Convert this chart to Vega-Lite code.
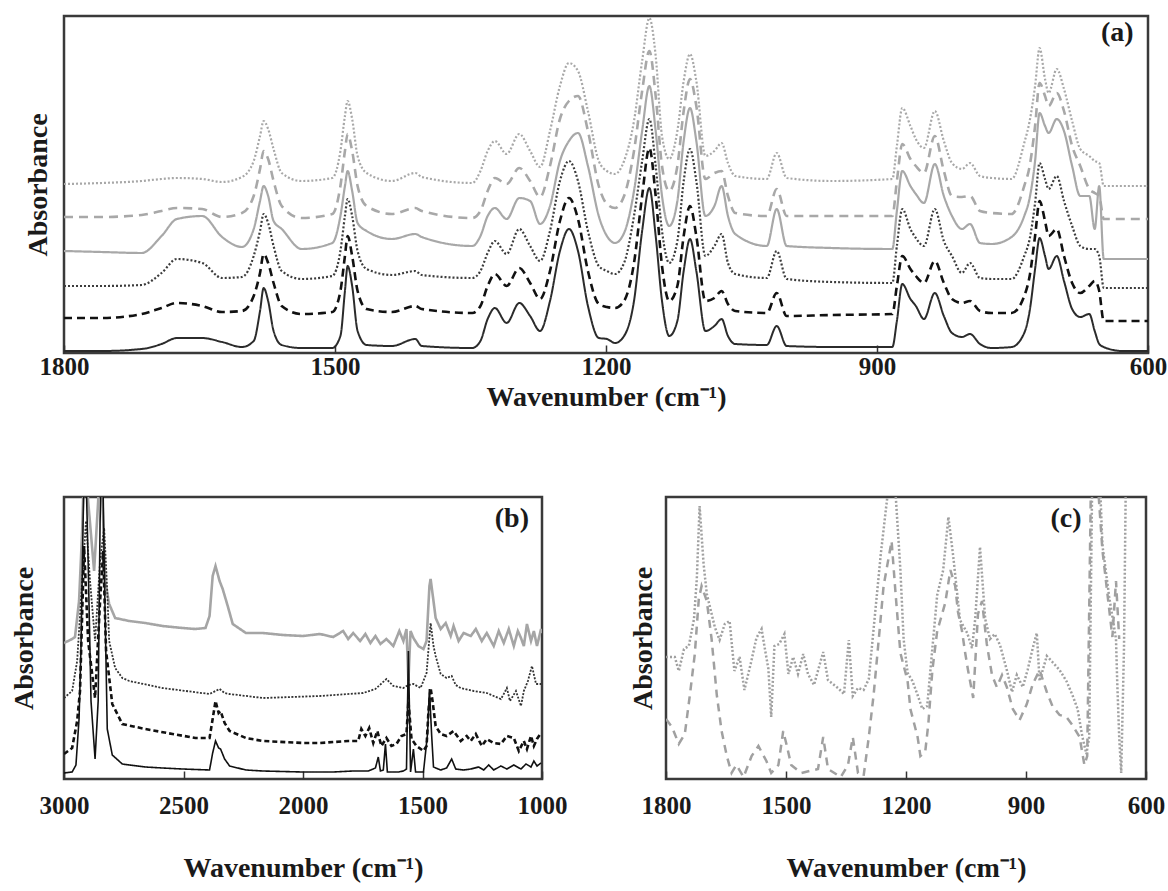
{
"$schema": "https://vega.github.io/schema/vega-lite/v6.json",
"padding": {"left": 8, "top": 14, "right": 0, "bottom": 0},
"background": "white",
"config": {
  "font": "Liberation Serif",
  "view": {"stroke": "#3a3a3a", "strokeWidth": 2.5},
  "axis": {"grid": false, "domain": false, "labelFont": "Liberation Serif", "labelFontWeight": "bold", "labelFontSize": 25, "labelColor": "#1a1a1a", "titleFont": "Liberation Serif", "titleFontWeight": "bold", "titleFontSize": 28, "titleColor": "#1a1a1a", "tickColor": "#333333", "tickWidth": 1.5, "labelFlush": false, "format": "d"}
},
"datasets": {
"a": [
{"s":"A1","w":1800,"v":2},{"s":"A1","w":1758,"v":2},{"s":"A1","w":1714,"v":4},{"s":"A1","w":1692,"v":9},{"s":"A1","w":1675,"v":15},{"s":"A1","w":1647,"v":15},{"s":"A1","w":1625,"v":11},{"s":"A1","w":1603,"v":6},{"s":"A1","w":1590,"v":12},{"s":"A1","w":1583,"v":42},
{"s":"A1","w":1579,"v":65},{"s":"A1","w":1574,"v":52},{"s":"A1","w":1568,"v":22},{"s":"A1","w":1559,"v":8},{"s":"A1","w":1537,"v":5},{"s":"A1","w":1503,"v":5},{"s":"A1","w":1494,"v":17},{"s":"A1","w":1489,"v":62},{"s":"A1","w":1486,"v":87},{"s":"A1","w":1481,"v":67},
{"s":"A1","w":1475,"v":22},{"s":"A1","w":1465,"v":8},{"s":"A1","w":1437,"v":7},{"s":"A1","w":1411,"v":14},{"s":"A1","w":1404,"v":7},{"s":"A1","w":1348,"v":5},{"s":"A1","w":1339,"v":12},{"s":"A1","w":1331,"v":34},{"s":"A1","w":1323,"v":45},{"s":"A1","w":1310,"v":30},
{"s":"A1","w":1296,"v":50},{"s":"A1","w":1284,"v":37},{"s":"A1","w":1273,"v":22},{"s":"A1","w":1262,"v":52},{"s":"A1","w":1251,"v":102},{"s":"A1","w":1241,"v":124},{"s":"A1","w":1231,"v":102},{"s":"A1","w":1220,"v":47},{"s":"A1","w":1208,"v":15},{"s":"A1","w":1199,"v":14},
{"s":"A1","w":1190,"v":10},{"s":"A1","w":1180,"v":17},{"s":"A1","w":1169,"v":52},{"s":"A1","w":1160,"v":122},{"s":"A1","w":1152,"v":165},{"s":"A1","w":1145,"v":117},{"s":"A1","w":1138,"v":52},{"s":"A1","w":1130,"v":17},{"s":"A1","w":1121,"v":32},{"s":"A1","w":1114,"v":82},
{"s":"A1","w":1107,"v":114},{"s":"A1","w":1100,"v":82},{"s":"A1","w":1090,"v":22},{"s":"A1","w":1080,"v":27},{"s":"A1","w":1072,"v":34},{"s":"A1","w":1065,"v":17},{"s":"A1","w":1057,"v":9},{"s":"A1","w":1022,"v":8},{"s":"A1","w":1011,"v":27},{"s":"A1","w":1000,"v":7},
{"s":"A1","w":950,"v":6},{"s":"A1","w":883,"v":6},{"s":"A1","w":878,"v":32},{"s":"A1","w":872,"v":69},{"s":"A1","w":863,"v":54},{"s":"A1","w":857,"v":47},{"s":"A1","w":848,"v":34},{"s":"A1","w":836,"v":60},{"s":"A1","w":826,"v":37},{"s":"A1","w":817,"v":20},
{"s":"A1","w":806,"v":16},{"s":"A1","w":797,"v":19},{"s":"A1","w":786,"v":9},{"s":"A1","w":773,"v":5},{"s":"A1","w":751,"v":6},{"s":"A1","w":737,"v":20},{"s":"A1","w":731,"v":42},{"s":"A1","w":725,"v":84},{"s":"A1","w":720,"v":115},{"s":"A1","w":714,"v":97},
{"s":"A1","w":710,"v":84},{"s":"A1","w":701,"v":97},{"s":"A1","w":693,"v":72},{"s":"A1","w":684,"v":44},{"s":"A1","w":675,"v":36},{"s":"A1","w":665,"v":39},{"s":"A1","w":659,"v":22},{"s":"A1","w":654,"v":9},{"s":"A1","w":649,"v":6},{"s":"A1","w":643,"v":4},
{"s":"A1","w":629,"v":2},{"s":"A1","w":600,"v":2},
{"s":"A2","w":1800,"v":35},{"s":"A2","w":1758,"v":35},{"s":"A2","w":1714,"v":39},{"s":"A2","w":1692,"v":45},{"s":"A2","w":1675,"v":50},{"s":"A2","w":1647,"v":47},{"s":"A2","w":1625,"v":41},{"s":"A2","w":1603,"v":42},{"s":"A2","w":1590,"v":57},{"s":"A2","w":1583,"v":80},
{"s":"A2","w":1579,"v":99},{"s":"A2","w":1574,"v":90},{"s":"A2","w":1568,"v":70},{"s":"A2","w":1559,"v":47},{"s":"A2","w":1537,"v":39},{"s":"A2","w":1503,"v":41},{"s":"A2","w":1494,"v":62},{"s":"A2","w":1489,"v":97},{"s":"A2","w":1486,"v":117},{"s":"A2","w":1481,"v":97},
{"s":"A2","w":1475,"v":62},{"s":"A2","w":1465,"v":44},{"s":"A2","w":1437,"v":41},{"s":"A2","w":1411,"v":47},{"s":"A2","w":1404,"v":44},{"s":"A2","w":1348,"v":40},{"s":"A2","w":1339,"v":47},{"s":"A2","w":1331,"v":67},{"s":"A2","w":1323,"v":79},{"s":"A2","w":1310,"v":67},
{"s":"A2","w":1296,"v":85},{"s":"A2","w":1284,"v":70},{"s":"A2","w":1273,"v":54},{"s":"A2","w":1262,"v":82},{"s":"A2","w":1251,"v":132},{"s":"A2","w":1241,"v":155},{"s":"A2","w":1231,"v":134},{"s":"A2","w":1220,"v":82},{"s":"A2","w":1208,"v":49},{"s":"A2","w":1199,"v":46},
{"s":"A2","w":1190,"v":45},{"s":"A2","w":1180,"v":52},{"s":"A2","w":1169,"v":90},{"s":"A2","w":1160,"v":157},{"s":"A2","w":1152,"v":205},{"s":"A2","w":1145,"v":157},{"s":"A2","w":1138,"v":87},{"s":"A2","w":1130,"v":52},{"s":"A2","w":1121,"v":67},{"s":"A2","w":1114,"v":117},
{"s":"A2","w":1107,"v":147},{"s":"A2","w":1100,"v":117},{"s":"A2","w":1090,"v":52},{"s":"A2","w":1080,"v":55},{"s":"A2","w":1072,"v":62},{"s":"A2","w":1065,"v":49},{"s":"A2","w":1057,"v":42},{"s":"A2","w":1022,"v":40},{"s":"A2","w":1011,"v":60},{"s":"A2","w":1000,"v":37},
{"s":"A2","w":950,"v":38},{"s":"A2","w":883,"v":39},{"s":"A2","w":878,"v":67},{"s":"A2","w":872,"v":97},{"s":"A2","w":863,"v":84},{"s":"A2","w":857,"v":77},{"s":"A2","w":848,"v":70},{"s":"A2","w":836,"v":92},{"s":"A2","w":826,"v":70},{"s":"A2","w":817,"v":54},
{"s":"A2","w":806,"v":50},{"s":"A2","w":797,"v":52},{"s":"A2","w":786,"v":42},{"s":"A2","w":773,"v":40},{"s":"A2","w":751,"v":40},{"s":"A2","w":737,"v":57},{"s":"A2","w":731,"v":77},{"s":"A2","w":725,"v":117},{"s":"A2","w":720,"v":152},{"s":"A2","w":714,"v":132},
{"s":"A2","w":710,"v":117},{"s":"A2","w":701,"v":124},{"s":"A2","w":693,"v":97},{"s":"A2","w":684,"v":70},{"s":"A2","w":675,"v":60},{"s":"A2","w":665,"v":67},{"s":"A2","w":659,"v":72},{"s":"A2","w":654,"v":62},{"s":"A2","w":649,"v":32},{"s":"A2","w":643,"v":32},
{"s":"A2","w":629,"v":32},{"s":"A2","w":600,"v":32},
{"s":"A3","w":1800,"v":67},{"s":"A3","w":1758,"v":67},{"s":"A3","w":1714,"v":68},{"s":"A3","w":1692,"v":80},{"s":"A3","w":1675,"v":94},{"s":"A3","w":1647,"v":90},{"s":"A3","w":1625,"v":75},{"s":"A3","w":1603,"v":76},{"s":"A3","w":1590,"v":97},{"s":"A3","w":1583,"v":122},
{"s":"A3","w":1579,"v":139},{"s":"A3","w":1574,"v":130},{"s":"A3","w":1568,"v":107},{"s":"A3","w":1559,"v":82},{"s":"A3","w":1537,"v":74},{"s":"A3","w":1503,"v":77},{"s":"A3","w":1494,"v":102},{"s":"A3","w":1489,"v":137},{"s":"A3","w":1486,"v":154},{"s":"A3","w":1481,"v":137},
{"s":"A3","w":1475,"v":102},{"s":"A3","w":1465,"v":84},{"s":"A3","w":1437,"v":78},{"s":"A3","w":1411,"v":82},{"s":"A3","w":1404,"v":78},{"s":"A3","w":1348,"v":75},{"s":"A3","w":1339,"v":82},{"s":"A3","w":1331,"v":100},{"s":"A3","w":1323,"v":112},{"s":"A3","w":1310,"v":99},
{"s":"A3","w":1296,"v":124},{"s":"A3","w":1284,"v":107},{"s":"A3","w":1273,"v":92},{"s":"A3","w":1262,"v":122},{"s":"A3","w":1251,"v":172},{"s":"A3","w":1241,"v":192},{"s":"A3","w":1231,"v":172},{"s":"A3","w":1220,"v":122},{"s":"A3","w":1208,"v":87},{"s":"A3","w":1199,"v":82},
{"s":"A3","w":1190,"v":79},{"s":"A3","w":1180,"v":90},{"s":"A3","w":1169,"v":137},{"s":"A3","w":1160,"v":192},{"s":"A3","w":1152,"v":234},{"s":"A3","w":1145,"v":187},{"s":"A3","w":1138,"v":122},{"s":"A3","w":1130,"v":90},{"s":"A3","w":1121,"v":112},{"s":"A3","w":1114,"v":172},
{"s":"A3","w":1107,"v":204},{"s":"A3","w":1100,"v":172},{"s":"A3","w":1090,"v":97},{"s":"A3","w":1080,"v":107},{"s":"A3","w":1072,"v":119},{"s":"A3","w":1065,"v":90},{"s":"A3","w":1057,"v":79},{"s":"A3","w":1022,"v":75},{"s":"A3","w":1011,"v":102},{"s":"A3","w":1000,"v":74},
{"s":"A3","w":950,"v":71},{"s":"A3","w":883,"v":70},{"s":"A3","w":878,"v":107},{"s":"A3","w":872,"v":144},{"s":"A3","w":863,"v":124},{"s":"A3","w":857,"v":115},{"s":"A3","w":848,"v":107},{"s":"A3","w":836,"v":144},{"s":"A3","w":826,"v":112},{"s":"A3","w":817,"v":97},
{"s":"A3","w":806,"v":80},{"s":"A3","w":797,"v":90},{"s":"A3","w":786,"v":75},{"s":"A3","w":773,"v":74},{"s":"A3","w":751,"v":74},{"s":"A3","w":737,"v":97},{"s":"A3","w":731,"v":114},{"s":"A3","w":725,"v":150},{"s":"A3","w":720,"v":190},{"s":"A3","w":714,"v":174},
{"s":"A3","w":710,"v":164},{"s":"A3","w":701,"v":177},{"s":"A3","w":693,"v":152},{"s":"A3","w":684,"v":127},{"s":"A3","w":675,"v":107},{"s":"A3","w":665,"v":104},{"s":"A3","w":659,"v":104},{"s":"A3","w":654,"v":97},{"s":"A3","w":649,"v":65},{"s":"A3","w":643,"v":65},
{"s":"A3","w":629,"v":65},{"s":"A3","w":600,"v":65},
{"s":"A4","w":1800,"v":102},{"s":"A4","w":1758,"v":101},{"s":"A4","w":1714,"v":100},{"s":"A4","w":1692,"v":117},{"s":"A4","w":1675,"v":134},{"s":"A4","w":1647,"v":137},{"s":"A4","w":1625,"v":116},{"s":"A4","w":1603,"v":106},{"s":"A4","w":1590,"v":124},{"s":"A4","w":1583,"v":152},
{"s":"A4","w":1579,"v":167},{"s":"A4","w":1574,"v":157},{"s":"A4","w":1568,"v":132},{"s":"A4","w":1559,"v":124},{"s":"A4","w":1537,"v":104},{"s":"A4","w":1503,"v":110},{"s":"A4","w":1494,"v":137},{"s":"A4","w":1489,"v":167},{"s":"A4","w":1486,"v":182},{"s":"A4","w":1481,"v":162},
{"s":"A4","w":1475,"v":130},{"s":"A4","w":1465,"v":122},{"s":"A4","w":1437,"v":114},{"s":"A4","w":1411,"v":119},{"s":"A4","w":1404,"v":116},{"s":"A4","w":1348,"v":107},{"s":"A4","w":1339,"v":117},{"s":"A4","w":1331,"v":137},{"s":"A4","w":1323,"v":145},{"s":"A4","w":1310,"v":134},
{"s":"A4","w":1296,"v":155},{"s":"A4","w":1284,"v":152},{"s":"A4","w":1273,"v":129},{"s":"A4","w":1262,"v":147},{"s":"A4","w":1251,"v":192},{"s":"A4","w":1241,"v":212},{"s":"A4","w":1231,"v":220},{"s":"A4","w":1220,"v":187},{"s":"A4","w":1208,"v":137},{"s":"A4","w":1199,"v":117},
{"s":"A4","w":1190,"v":110},{"s":"A4","w":1180,"v":120},{"s":"A4","w":1169,"v":162},{"s":"A4","w":1160,"v":222},{"s":"A4","w":1152,"v":267},{"s":"A4","w":1145,"v":222},{"s":"A4","w":1138,"v":157},{"s":"A4","w":1130,"v":127},{"s":"A4","w":1121,"v":152},{"s":"A4","w":1114,"v":212},
{"s":"A4","w":1107,"v":245},{"s":"A4","w":1100,"v":212},{"s":"A4","w":1090,"v":137},{"s":"A4","w":1080,"v":147},{"s":"A4","w":1072,"v":167},{"s":"A4","w":1065,"v":137},{"s":"A4","w":1057,"v":119},{"s":"A4","w":1022,"v":107},{"s":"A4","w":1011,"v":144},{"s":"A4","w":1000,"v":107},
{"s":"A4","w":950,"v":105},{"s":"A4","w":883,"v":104},{"s":"A4","w":878,"v":142},{"s":"A4","w":872,"v":182},{"s":"A4","w":863,"v":167},{"s":"A4","w":857,"v":159},{"s":"A4","w":848,"v":150},{"s":"A4","w":836,"v":189},{"s":"A4","w":826,"v":157},{"s":"A4","w":817,"v":137},
{"s":"A4","w":806,"v":124},{"s":"A4","w":797,"v":129},{"s":"A4","w":786,"v":110},{"s":"A4","w":773,"v":109},{"s":"A4","w":751,"v":116},{"s":"A4","w":737,"v":137},{"s":"A4","w":731,"v":155},{"s":"A4","w":725,"v":192},{"s":"A4","w":720,"v":240},{"s":"A4","w":714,"v":227},
{"s":"A4","w":710,"v":220},{"s":"A4","w":701,"v":234},{"s":"A4","w":693,"v":222},{"s":"A4","w":684,"v":187},{"s":"A4","w":675,"v":157},{"s":"A4","w":665,"v":157},{"s":"A4","w":659,"v":124},{"s":"A4","w":654,"v":167},{"s":"A4","w":649,"v":94},{"s":"A4","w":643,"v":94},
{"s":"A4","w":629,"v":94},{"s":"A4","w":600,"v":94},
{"s":"A5","w":1800,"v":136},{"s":"A5","w":1758,"v":136},{"s":"A5","w":1714,"v":138},{"s":"A5","w":1692,"v":142},{"s":"A5","w":1675,"v":145},{"s":"A5","w":1647,"v":144},{"s":"A5","w":1625,"v":136},{"s":"A5","w":1603,"v":140},{"s":"A5","w":1590,"v":157},{"s":"A5","w":1583,"v":184},
{"s":"A5","w":1579,"v":202},{"s":"A5","w":1574,"v":194},{"s":"A5","w":1568,"v":172},{"s":"A5","w":1559,"v":147},{"s":"A5","w":1537,"v":135},{"s":"A5","w":1503,"v":139},{"s":"A5","w":1494,"v":167},{"s":"A5","w":1489,"v":202},{"s":"A5","w":1486,"v":219},{"s":"A5","w":1481,"v":202},
{"s":"A5","w":1475,"v":167},{"s":"A5","w":1465,"v":147},{"s":"A5","w":1437,"v":139},{"s":"A5","w":1411,"v":145},{"s":"A5","w":1404,"v":142},{"s":"A5","w":1348,"v":135},{"s":"A5","w":1339,"v":142},{"s":"A5","w":1331,"v":162},{"s":"A5","w":1323,"v":175},{"s":"A5","w":1310,"v":169},
{"s":"A5","w":1296,"v":185},{"s":"A5","w":1284,"v":172},{"s":"A5","w":1273,"v":156},{"s":"A5","w":1262,"v":187},{"s":"A5","w":1251,"v":234},{"s":"A5","w":1241,"v":252},{"s":"A5","w":1231,"v":257},{"s":"A5","w":1220,"v":222},{"s":"A5","w":1208,"v":167},{"s":"A5","w":1199,"v":149},
{"s":"A5","w":1190,"v":145},{"s":"A5","w":1180,"v":157},{"s":"A5","w":1169,"v":202},{"s":"A5","w":1160,"v":262},{"s":"A5","w":1152,"v":302},{"s":"A5","w":1145,"v":257},{"s":"A5","w":1138,"v":187},{"s":"A5","w":1130,"v":162},{"s":"A5","w":1121,"v":187},{"s":"A5","w":1114,"v":242},
{"s":"A5","w":1107,"v":274},{"s":"A5","w":1100,"v":247},{"s":"A5","w":1090,"v":174},{"s":"A5","w":1080,"v":180},{"s":"A5","w":1072,"v":182},{"s":"A5","w":1065,"v":157},{"s":"A5","w":1057,"v":140},{"s":"A5","w":1022,"v":137},{"s":"A5","w":1011,"v":164},{"s":"A5","w":1000,"v":137},
{"s":"A5","w":950,"v":137},{"s":"A5","w":883,"v":137},{"s":"A5","w":878,"v":172},{"s":"A5","w":872,"v":209},{"s":"A5","w":863,"v":194},{"s":"A5","w":857,"v":187},{"s":"A5","w":848,"v":180},{"s":"A5","w":836,"v":217},{"s":"A5","w":826,"v":182},{"s":"A5","w":817,"v":157},
{"s":"A5","w":806,"v":156},{"s":"A5","w":797,"v":157},{"s":"A5","w":786,"v":142},{"s":"A5","w":773,"v":140},{"s":"A5","w":751,"v":139},{"s":"A5","w":737,"v":167},{"s":"A5","w":731,"v":187},{"s":"A5","w":725,"v":227},{"s":"A5","w":720,"v":270},{"s":"A5","w":714,"v":257},
{"s":"A5","w":710,"v":247},{"s":"A5","w":701,"v":260},{"s":"A5","w":693,"v":242},{"s":"A5","w":684,"v":207},{"s":"A5","w":675,"v":187},{"s":"A5","w":665,"v":164},{"s":"A5","w":659,"v":160},{"s":"A5","w":654,"v":157},{"s":"A5","w":649,"v":134},{"s":"A5","w":643,"v":134},
{"s":"A5","w":629,"v":134},{"s":"A5","w":600,"v":134},
{"s":"A6","w":1800,"v":169},{"s":"A6","w":1758,"v":170},{"s":"A6","w":1714,"v":172},{"s":"A6","w":1692,"v":174},{"s":"A6","w":1675,"v":175},{"s":"A6","w":1647,"v":174},{"s":"A6","w":1625,"v":171},{"s":"A6","w":1603,"v":176},{"s":"A6","w":1590,"v":192},{"s":"A6","w":1583,"v":217},
{"s":"A6","w":1579,"v":232},{"s":"A6","w":1574,"v":224},{"s":"A6","w":1568,"v":204},{"s":"A6","w":1559,"v":180},{"s":"A6","w":1537,"v":172},{"s":"A6","w":1503,"v":175},{"s":"A6","w":1494,"v":202},{"s":"A6","w":1489,"v":237},{"s":"A6","w":1486,"v":252},{"s":"A6","w":1481,"v":234},
{"s":"A6","w":1475,"v":197},{"s":"A6","w":1465,"v":180},{"s":"A6","w":1437,"v":172},{"s":"A6","w":1411,"v":180},{"s":"A6","w":1404,"v":176},{"s":"A6","w":1348,"v":170},{"s":"A6","w":1339,"v":182},{"s":"A6","w":1331,"v":202},{"s":"A6","w":1323,"v":212},{"s":"A6","w":1310,"v":199},
{"s":"A6","w":1296,"v":219},{"s":"A6","w":1284,"v":202},{"s":"A6","w":1273,"v":186},{"s":"A6","w":1262,"v":222},{"s":"A6","w":1251,"v":267},{"s":"A6","w":1241,"v":290},{"s":"A6","w":1231,"v":282},{"s":"A6","w":1220,"v":242},{"s":"A6","w":1208,"v":192},{"s":"A6","w":1199,"v":182},
{"s":"A6","w":1190,"v":179},{"s":"A6","w":1180,"v":192},{"s":"A6","w":1169,"v":232},{"s":"A6","w":1160,"v":292},{"s":"A6","w":1152,"v":335},{"s":"A6","w":1145,"v":297},{"s":"A6","w":1138,"v":217},{"s":"A6","w":1130,"v":194},{"s":"A6","w":1121,"v":222},{"s":"A6","w":1114,"v":272},
{"s":"A6","w":1107,"v":299},{"s":"A6","w":1100,"v":272},{"s":"A6","w":1090,"v":197},{"s":"A6","w":1080,"v":202},{"s":"A6","w":1072,"v":210},{"s":"A6","w":1065,"v":190},{"s":"A6","w":1057,"v":177},{"s":"A6","w":1022,"v":174},{"s":"A6","w":1011,"v":200},{"s":"A6","w":1000,"v":175},
{"s":"A6","w":950,"v":172},{"s":"A6","w":883,"v":174},{"s":"A6","w":878,"v":207},{"s":"A6","w":872,"v":245},{"s":"A6","w":863,"v":227},{"s":"A6","w":857,"v":214},{"s":"A6","w":848,"v":205},{"s":"A6","w":836,"v":242},{"s":"A6","w":826,"v":212},{"s":"A6","w":817,"v":190},
{"s":"A6","w":806,"v":184},{"s":"A6","w":797,"v":190},{"s":"A6","w":786,"v":177},{"s":"A6","w":773,"v":175},{"s":"A6","w":751,"v":174},{"s":"A6","w":737,"v":210},{"s":"A6","w":731,"v":232},{"s":"A6","w":725,"v":267},{"s":"A6","w":720,"v":305},{"s":"A6","w":714,"v":274},
{"s":"A6","w":710,"v":260},{"s":"A6","w":701,"v":284},{"s":"A6","w":693,"v":264},{"s":"A6","w":684,"v":232},{"s":"A6","w":675,"v":204},{"s":"A6","w":665,"v":197},{"s":"A6","w":659,"v":192},{"s":"A6","w":654,"v":190},{"s":"A6","w":649,"v":167},{"s":"A6","w":643,"v":167},
{"s":"A6","w":629,"v":167},{"s":"A6","w":600,"v":167}
],
"b": [
{"s":"B4","w":3000,"v":136},{"s":"B4","w":2966,"v":140},{"s":"B4","w":2954,"v":142},{"s":"B4","w":2937,"v":178},{"s":"B4","w":2924,"v":248},{"s":"B4","w":2912,"v":348},{"s":"B4","w":2899,"v":278},{"s":"B4","w":2874,"v":208},{"s":"B4","w":2857,"v":278},{"s":"B4","w":2849,"v":348},
{"s":"B4","w":2836,"v":258},{"s":"B4","w":2828,"v":198},{"s":"B4","w":2811,"v":175},{"s":"B4","w":2786,"v":161},{"s":"B4","w":2727,"v":158},{"s":"B4","w":2660,"v":156},{"s":"B4","w":2588,"v":153},{"s":"B4","w":2504,"v":151},{"s":"B4","w":2450,"v":150},{"s":"B4","w":2408,"v":151},
{"s":"B4","w":2391,"v":163},{"s":"B4","w":2378,"v":203},{"s":"B4","w":2366,"v":213},{"s":"B4","w":2349,"v":198},{"s":"B4","w":2336,"v":190},{"s":"B4","w":2315,"v":173},{"s":"B4","w":2294,"v":155},{"s":"B4","w":2239,"v":146},{"s":"B4","w":2168,"v":146},{"s":"B4","w":2084,"v":144},
{"s":"B4","w":2000,"v":143},{"s":"B4","w":1929,"v":145},{"s":"B4","w":1874,"v":142},{"s":"B4","w":1832,"v":148},{"s":"B4","w":1811,"v":140},{"s":"B4","w":1790,"v":146},{"s":"B4","w":1761,"v":138},{"s":"B4","w":1739,"v":145},{"s":"B4","w":1718,"v":136},{"s":"B4","w":1697,"v":143},
{"s":"B4","w":1676,"v":135},{"s":"B4","w":1651,"v":140},{"s":"B4","w":1622,"v":133},{"s":"B4","w":1597,"v":148},{"s":"B4","w":1580,"v":138},{"s":"B4","w":1567,"v":150},{"s":"B4","w":1559,"v":98},{"s":"B4","w":1550,"v":148},{"s":"B4","w":1538,"v":141},{"s":"B4","w":1517,"v":133},
{"s":"B4","w":1496,"v":130},{"s":"B4","w":1483,"v":138},{"s":"B4","w":1471,"v":193},{"s":"B4","w":1466,"v":200},{"s":"B4","w":1454,"v":178},{"s":"B4","w":1445,"v":161},{"s":"B4","w":1424,"v":150},{"s":"B4","w":1403,"v":156},{"s":"B4","w":1382,"v":143},{"s":"B4","w":1370,"v":153},
{"s":"B4","w":1349,"v":138},{"s":"B4","w":1328,"v":146},{"s":"B4","w":1298,"v":143},{"s":"B4","w":1277,"v":150},{"s":"B4","w":1252,"v":138},{"s":"B4","w":1231,"v":146},{"s":"B4","w":1202,"v":133},{"s":"B4","w":1181,"v":148},{"s":"B4","w":1160,"v":136},{"s":"B4","w":1139,"v":150},
{"s":"B4","w":1118,"v":133},{"s":"B4","w":1101,"v":148},{"s":"B4","w":1088,"v":141},{"s":"B4","w":1076,"v":133},{"s":"B4","w":1063,"v":155},{"s":"B4","w":1046,"v":138},{"s":"B4","w":1034,"v":148},{"s":"B4","w":1021,"v":133},{"s":"B4","w":1004,"v":150},{"s":"B4","w":1000,"v":146},
{"s":"B3","w":3000,"v":81},{"s":"B3","w":2966,"v":88},{"s":"B3","w":2945,"v":118},{"s":"B3","w":2924,"v":198},{"s":"B3","w":2908,"v":258},{"s":"B3","w":2891,"v":198},{"s":"B3","w":2870,"v":138},{"s":"B3","w":2849,"v":218},{"s":"B3","w":2832,"v":251},{"s":"B3","w":2819,"v":188},
{"s":"B3","w":2811,"v":138},{"s":"B3","w":2786,"v":111},{"s":"B3","w":2756,"v":101},{"s":"B3","w":2727,"v":98},{"s":"B3","w":2588,"v":91},{"s":"B3","w":2391,"v":85},{"s":"B3","w":2366,"v":88},{"s":"B3","w":2349,"v":90},{"s":"B3","w":2328,"v":86},{"s":"B3","w":2307,"v":85},
{"s":"B3","w":2168,"v":81},{"s":"B3","w":1929,"v":83},{"s":"B3","w":1748,"v":86},{"s":"B3","w":1697,"v":90},{"s":"B3","w":1651,"v":100},{"s":"B3","w":1622,"v":93},{"s":"B3","w":1580,"v":91},{"s":"B3","w":1559,"v":94},{"s":"B3","w":1538,"v":95},{"s":"B3","w":1508,"v":91},
{"s":"B3","w":1483,"v":106},{"s":"B3","w":1466,"v":156},{"s":"B3","w":1454,"v":133},{"s":"B3","w":1445,"v":123},{"s":"B3","w":1424,"v":105},{"s":"B3","w":1399,"v":101},{"s":"B3","w":1378,"v":103},{"s":"B3","w":1361,"v":94},{"s":"B3","w":1340,"v":91},{"s":"B3","w":1286,"v":88},
{"s":"B3","w":1231,"v":86},{"s":"B3","w":1202,"v":83},{"s":"B3","w":1172,"v":80},{"s":"B3","w":1160,"v":85},{"s":"B3","w":1147,"v":91},{"s":"B3","w":1134,"v":78},{"s":"B3","w":1109,"v":88},{"s":"B3","w":1088,"v":73},{"s":"B3","w":1076,"v":88},{"s":"B3","w":1059,"v":98},
{"s":"B3","w":1042,"v":113},{"s":"B3","w":1025,"v":95},{"s":"B3","w":1004,"v":95},
{"s":"B2","w":3000,"v":25},{"s":"B2","w":2966,"v":31},{"s":"B2","w":2945,"v":58},{"s":"B2","w":2933,"v":88},{"s":"B2","w":2916,"v":233},{"s":"B2","w":2899,"v":138},{"s":"B2","w":2870,"v":81},{"s":"B2","w":2849,"v":178},{"s":"B2","w":2836,"v":228},{"s":"B2","w":2824,"v":128},
{"s":"B2","w":2798,"v":75},{"s":"B2","w":2756,"v":55},{"s":"B2","w":2660,"v":50},{"s":"B2","w":2546,"v":45},{"s":"B2","w":2450,"v":41},{"s":"B2","w":2391,"v":41},{"s":"B2","w":2378,"v":60},{"s":"B2","w":2366,"v":78},{"s":"B2","w":2353,"v":66},{"s":"B2","w":2345,"v":68},
{"s":"B2","w":2328,"v":56},{"s":"B2","w":2307,"v":48},{"s":"B2","w":2239,"v":41},{"s":"B2","w":2168,"v":38},{"s":"B2","w":2000,"v":36},{"s":"B2","w":1929,"v":36},{"s":"B2","w":1811,"v":38},{"s":"B2","w":1769,"v":38},{"s":"B2","w":1756,"v":50},{"s":"B2","w":1739,"v":43},
{"s":"B2","w":1723,"v":51},{"s":"B2","w":1706,"v":36},{"s":"B2","w":1689,"v":48},{"s":"B2","w":1672,"v":33},{"s":"B2","w":1651,"v":41},{"s":"B2","w":1630,"v":33},{"s":"B2","w":1609,"v":35},{"s":"B2","w":1588,"v":43},{"s":"B2","w":1567,"v":45},{"s":"B2","w":1559,"v":78},
{"s":"B2","w":1546,"v":40},{"s":"B2","w":1525,"v":33},{"s":"B2","w":1496,"v":28},{"s":"B2","w":1483,"v":33},{"s":"B2","w":1475,"v":68},{"s":"B2","w":1466,"v":91},{"s":"B2","w":1458,"v":78},{"s":"B2","w":1445,"v":53},{"s":"B2","w":1424,"v":45},{"s":"B2","w":1399,"v":43},
{"s":"B2","w":1370,"v":48},{"s":"B2","w":1340,"v":38},{"s":"B2","w":1315,"v":43},{"s":"B2","w":1298,"v":38},{"s":"B2","w":1277,"v":45},{"s":"B2","w":1252,"v":33},{"s":"B2","w":1231,"v":40},{"s":"B2","w":1202,"v":36},{"s":"B2","w":1172,"v":35},{"s":"B2","w":1147,"v":43},
{"s":"B2","w":1118,"v":41},{"s":"B2","w":1097,"v":28},{"s":"B2","w":1076,"v":38},{"s":"B2","w":1063,"v":30},{"s":"B2","w":1046,"v":43},{"s":"B2","w":1034,"v":33},{"s":"B2","w":1021,"v":40},{"s":"B2","w":1004,"v":46},
{"s":"B1","w":3000,"v":6},{"s":"B1","w":2966,"v":7},{"s":"B1","w":2950,"v":14},{"s":"B1","w":2937,"v":60},{"s":"B1","w":2929,"v":130},{"s":"B1","w":2920,"v":258},{"s":"B1","w":2912,"v":348},{"s":"B1","w":2899,"v":218},{"s":"B1","w":2887,"v":78},{"s":"B1","w":2870,"v":20},
{"s":"B1","w":2857,"v":78},{"s":"B1","w":2849,"v":258},{"s":"B1","w":2840,"v":348},{"s":"B1","w":2832,"v":218},{"s":"B1","w":2819,"v":50},{"s":"B1","w":2798,"v":24},{"s":"B1","w":2756,"v":15},{"s":"B1","w":2727,"v":14},{"s":"B1","w":2660,"v":12},{"s":"B1","w":2588,"v":11},
{"s":"B1","w":2504,"v":10},{"s":"B1","w":2391,"v":9},{"s":"B1","w":2378,"v":26},{"s":"B1","w":2366,"v":38},{"s":"B1","w":2353,"v":31},{"s":"B1","w":2345,"v":30},{"s":"B1","w":2328,"v":20},{"s":"B1","w":2307,"v":13},{"s":"B1","w":2239,"v":9},{"s":"B1","w":2168,"v":8},
{"s":"B1","w":2000,"v":7},{"s":"B1","w":1874,"v":7},{"s":"B1","w":1790,"v":8},{"s":"B1","w":1727,"v":8},{"s":"B1","w":1697,"v":11},{"s":"B1","w":1685,"v":22},{"s":"B1","w":1676,"v":8},{"s":"B1","w":1664,"v":9},{"s":"B1","w":1655,"v":35},{"s":"B1","w":1647,"v":7},
{"s":"B1","w":1601,"v":7},{"s":"B1","w":1580,"v":8},{"s":"B1","w":1567,"v":10},{"s":"B1","w":1559,"v":128},{"s":"B1","w":1550,"v":7},{"s":"B1","w":1538,"v":30},{"s":"B1","w":1529,"v":7},{"s":"B1","w":1496,"v":7},{"s":"B1","w":1479,"v":45},{"s":"B1","w":1471,"v":90},
{"s":"B1","w":1462,"v":45},{"s":"B1","w":1454,"v":12},{"s":"B1","w":1424,"v":9},{"s":"B1","w":1399,"v":11},{"s":"B1","w":1378,"v":20},{"s":"B1","w":1361,"v":10},{"s":"B1","w":1328,"v":9},{"s":"B1","w":1298,"v":10},{"s":"B1","w":1265,"v":12},{"s":"B1","w":1244,"v":9},
{"s":"B1","w":1223,"v":14},{"s":"B1","w":1202,"v":9},{"s":"B1","w":1172,"v":13},{"s":"B1","w":1147,"v":10},{"s":"B1","w":1118,"v":14},{"s":"B1","w":1088,"v":10},{"s":"B1","w":1067,"v":15},{"s":"B1","w":1046,"v":12},{"s":"B1","w":1034,"v":18},{"s":"B1","w":1021,"v":13},
{"s":"B1","w":1004,"v":16}
],
"c": [
{"s":"C1","w":1800,"v":122},{"s":"C1","w":1778,"v":122},{"s":"C1","w":1768,"v":108},{"s":"C1","w":1755,"v":130},{"s":"C1","w":1743,"v":133},{"s":"C1","w":1730,"v":160},{"s":"C1","w":1723,"v":200},{"s":"C1","w":1716,"v":273},{"s":"C1","w":1706,"v":215},{"s":"C1","w":1698,"v":185},
{"s":"C1","w":1678,"v":152},{"s":"C1","w":1666,"v":139},{"s":"C1","w":1653,"v":155},{"s":"C1","w":1641,"v":158},{"s":"C1","w":1629,"v":108},{"s":"C1","w":1616,"v":122},{"s":"C1","w":1604,"v":89},{"s":"C1","w":1586,"v":119},{"s":"C1","w":1574,"v":141},{"s":"C1","w":1561,"v":150},
{"s":"C1","w":1554,"v":133},{"s":"C1","w":1544,"v":110},{"s":"C1","w":1537,"v":62},{"s":"C1","w":1529,"v":133},{"s":"C1","w":1517,"v":135},{"s":"C1","w":1504,"v":145},{"s":"C1","w":1494,"v":105},{"s":"C1","w":1482,"v":122},{"s":"C1","w":1470,"v":105},{"s":"C1","w":1457,"v":125},
{"s":"C1","w":1445,"v":105},{"s":"C1","w":1430,"v":94},{"s":"C1","w":1407,"v":127},{"s":"C1","w":1395,"v":99},{"s":"C1","w":1370,"v":91},{"s":"C1","w":1355,"v":85},{"s":"C1","w":1343,"v":139},{"s":"C1","w":1333,"v":83},{"s":"C1","w":1320,"v":91},{"s":"C1","w":1306,"v":89},
{"s":"C1","w":1293,"v":100},{"s":"C1","w":1281,"v":150},{"s":"C1","w":1263,"v":225},{"s":"C1","w":1243,"v":295},{"s":"C1","w":1236,"v":316},{"s":"C1","w":1226,"v":285},{"s":"C1","w":1214,"v":209},{"s":"C1","w":1206,"v":140},{"s":"C1","w":1196,"v":106},{"s":"C1","w":1184,"v":98},
{"s":"C1","w":1171,"v":84},{"s":"C1","w":1159,"v":70},{"s":"C1","w":1147,"v":73},{"s":"C1","w":1134,"v":131},{"s":"C1","w":1122,"v":184},{"s":"C1","w":1107,"v":209},{"s":"C1","w":1094,"v":262},{"s":"C1","w":1082,"v":223},{"s":"C1","w":1065,"v":159},{"s":"C1","w":1047,"v":146},
{"s":"C1","w":1035,"v":131},{"s":"C1","w":1027,"v":160},{"s":"C1","w":1015,"v":232},{"s":"C1","w":1002,"v":160},{"s":"C1","w":990,"v":140},{"s":"C1","w":978,"v":145},{"s":"C1","w":965,"v":134},{"s":"C1","w":948,"v":109},{"s":"C1","w":935,"v":87},{"s":"C1","w":923,"v":104},
{"s":"C1","w":908,"v":92},{"s":"C1","w":896,"v":109},{"s":"C1","w":883,"v":131},{"s":"C1","w":873,"v":146},{"s":"C1","w":866,"v":98},{"s":"C1","w":848,"v":123},{"s":"C1","w":834,"v":117},{"s":"C1","w":816,"v":109},{"s":"C1","w":799,"v":98},{"s":"C1","w":784,"v":84},
{"s":"C1","w":771,"v":70},{"s":"C1","w":759,"v":42},{"s":"C1","w":749,"v":25},{"s":"C1","w":742,"v":42},{"s":"C1","w":734,"v":316},{"s":"C1","w":717,"v":316},{"s":"C1","w":709,"v":234},{"s":"C1","w":692,"v":182},{"s":"C1","w":675,"v":140},{"s":"C1","w":672,"v":98},
{"s":"C1","w":667,"v":42},{"s":"C1","w":662,"v":6},{"s":"C1","w":655,"v":131},{"s":"C1","w":650,"v":316},
{"s":"C2","w":1800,"v":60},{"s":"C2","w":1785,"v":52},{"s":"C2","w":1768,"v":35},{"s":"C2","w":1753,"v":45},{"s":"C2","w":1740,"v":85},{"s":"C2","w":1728,"v":125},{"s":"C2","w":1718,"v":180},{"s":"C2","w":1711,"v":193},{"s":"C2","w":1698,"v":178},{"s":"C2","w":1686,"v":140},
{"s":"C2","w":1673,"v":84},{"s":"C2","w":1661,"v":48},{"s":"C2","w":1648,"v":23},{"s":"C2","w":1636,"v":6},{"s":"C2","w":1624,"v":14},{"s":"C2","w":1606,"v":2},{"s":"C2","w":1586,"v":23},{"s":"C2","w":1569,"v":33},{"s":"C2","w":1561,"v":27},{"s":"C2","w":1549,"v":18},
{"s":"C2","w":1537,"v":6},{"s":"C2","w":1519,"v":14},{"s":"C2","w":1507,"v":48},{"s":"C2","w":1499,"v":35},{"s":"C2","w":1487,"v":14},{"s":"C2","w":1462,"v":6},{"s":"C2","w":1420,"v":10},{"s":"C2","w":1407,"v":42},{"s":"C2","w":1395,"v":10},{"s":"C2","w":1363,"v":2},
{"s":"C2","w":1345,"v":14},{"s":"C2","w":1333,"v":42},{"s":"C2","w":1320,"v":6},{"s":"C2","w":1306,"v":3},{"s":"C2","w":1293,"v":42},{"s":"C2","w":1281,"v":84},{"s":"C2","w":1268,"v":140},{"s":"C2","w":1256,"v":193},{"s":"C2","w":1236,"v":238},{"s":"C2","w":1226,"v":185},
{"s":"C2","w":1214,"v":126},{"s":"C2","w":1196,"v":98},{"s":"C2","w":1189,"v":70},{"s":"C2","w":1171,"v":42},{"s":"C2","w":1164,"v":23},{"s":"C2","w":1152,"v":27},{"s":"C2","w":1144,"v":56},{"s":"C2","w":1134,"v":109},{"s":"C2","w":1122,"v":148},{"s":"C2","w":1114,"v":159},
{"s":"C2","w":1102,"v":176},{"s":"C2","w":1089,"v":209},{"s":"C2","w":1077,"v":193},{"s":"C2","w":1070,"v":167},{"s":"C2","w":1060,"v":148},{"s":"C2","w":1052,"v":126},{"s":"C2","w":1045,"v":109},{"s":"C2","w":1032,"v":81},{"s":"C2","w":1020,"v":165},{"s":"C2","w":1010,"v":178},
{"s":"C2","w":998,"v":135},{"s":"C2","w":985,"v":104},{"s":"C2","w":973,"v":92},{"s":"C2","w":960,"v":104},{"s":"C2","w":948,"v":92},{"s":"C2","w":933,"v":70},{"s":"C2","w":916,"v":59},{"s":"C2","w":898,"v":75},{"s":"C2","w":883,"v":95},{"s":"C2","w":866,"v":109},
{"s":"C2","w":848,"v":87},{"s":"C2","w":834,"v":73},{"s":"C2","w":816,"v":64},{"s":"C2","w":799,"v":62},{"s":"C2","w":784,"v":54},{"s":"C2","w":766,"v":42},{"s":"C2","w":754,"v":14},{"s":"C2","w":747,"v":23},{"s":"C2","w":737,"v":316},{"s":"C2","w":724,"v":316},
{"s":"C2","w":709,"v":229},{"s":"C2","w":697,"v":187},{"s":"C2","w":684,"v":142},{"s":"C2","w":675,"v":198},{"s":"C2","w":667,"v":140}
]
},
"vconcat": [
{
  "width": 1084, "height": 337,
  "layer": [
    {
      "data": {"name": "a"},
      "mark": {"type": "line", "clip": true, "interpolate": "monotone"},
      "encoding": {
        "x": {"field": "w", "type": "quantitative", "scale": {"domain": [600, 1800], "reverse": true, "nice": false, "zero": false}, "axis": {"values": [600, 900, 1200, 1500, 1800], "title": "Wavenumber (cm⁻¹)", "tickSize": -8, "labelPadding": 9, "titlePadding": 4}},
        "y": {"field": "v", "type": "quantitative", "scale": {"domain": [0, 337], "nice": false, "zero": false}, "axis": {"labels": false, "ticks": false, "title": "Absorbance", "titlePadding": 12}},
        "color": {"field": "s", "type": "nominal", "scale": {"domain": ["A1","A2","A3","A4","A5","A6","B1","B2","B3","B4","C1","C2"], "range": ["#2b2b2b","#111111","#3c3c3c","#a8a8a8","#a8a8a8","#a8a8a8","#111111","#111111","#333333","#a5a5a5","#a0a0a0","#a0a0a0"]}, "legend": null},
        "strokeDash": {"field": "s", "type": "nominal", "scale": {"domain": ["A1","A2","A3","A4","A5","A6","B1","B2","B3","B4","C1","C2"], "range": [[1,0],[8,5],[2,2],[1,0],[9,6],[2,2],[1,0],[5,3],[2,1.5],[1,0],[2,2],[8,6]]}, "legend": null},
        "strokeWidth": {"field": "s", "type": "ordinal", "scale": {"type": "ordinal", "domain": ["A1","A2","A3","A4","A5","A6","B1","B2","B3","B4","C1","C2"], "range": [2,2.6,2.2,2.2,2.6,2.2,1.6,2.6,1.8,2.6,2.5,2.5]}, "legend": null}
      }
    },
    {
      "data": {"values": [{"t": "(a)"}]},
      "mark": {"type": "text", "font": "Liberation Serif", "fontWeight": "bold", "fontSize": 28, "color": "#1a1a1a"},
      "encoding": {
        "x": {"datum": 634, "type": "quantitative"},
        "y": {"datum": 320, "type": "quantitative"},
        "text": {"field": "t"}
      }
    }
  ]
},
{
  "hconcat": [
    {
      "width": 478, "height": 282,
      "layer": [
        {
          "data": {"name": "b"},
          "mark": {"type": "line", "clip": true},
          "encoding": {
            "x": {"field": "w", "type": "quantitative", "scale": {"domain": [1000, 3000], "reverse": true, "nice": false, "zero": false}, "axis": {"values": [1000, 1500, 2000, 2500, 3000], "title": "Wavenumber (cm⁻¹)", "tickSize": -8, "labelPadding": 22, "titlePadding": 36}},
            "y": {"field": "v", "type": "quantitative", "scale": {"domain": [0, 282], "nice": false, "zero": false}, "axis": {"labels": false, "ticks": false, "title": "Absorbance", "titlePadding": 26}},
            "color": {"field": "s", "type": "nominal", "scale": {"domain": ["A1","A2","A3","A4","A5","A6","B1","B2","B3","B4","C1","C2"], "range": ["#2b2b2b","#111111","#3c3c3c","#a8a8a8","#a8a8a8","#a8a8a8","#111111","#111111","#333333","#a5a5a5","#a0a0a0","#a0a0a0"]}, "legend": null},
            "strokeDash": {"field": "s", "type": "nominal", "scale": {"domain": ["A1","A2","A3","A4","A5","A6","B1","B2","B3","B4","C1","C2"], "range": [[1,0],[8,5],[2,2],[1,0],[9,6],[2,2],[1,0],[5,3],[2,1.5],[1,0],[2,2],[8,6]]}, "legend": null},
            "strokeWidth": {"field": "s", "type": "ordinal", "scale": {"type": "ordinal", "domain": ["A1","A2","A3","A4","A5","A6","B1","B2","B3","B4","C1","C2"], "range": [2,2.6,2.2,2.2,2.6,2.2,1.6,2.6,1.8,2.6,2.5,2.5]}, "legend": null}
          }
        },
        {
          "data": {"values": [{"t": "(b)"}]},
          "mark": {"type": "text", "font": "Liberation Serif", "fontWeight": "bold", "fontSize": 28, "color": "#1a1a1a"},
          "encoding": {
            "x": {"datum": 1126, "type": "quantitative"},
            "y": {"datum": 260, "type": "quantitative"},
            "text": {"field": "t"}
          }
        }
      ]
    },
    {
      "width": 480, "height": 282,
      "layer": [
        {
          "data": {"name": "c"},
          "mark": {"type": "line", "clip": true},
          "encoding": {
            "x": {"field": "w", "type": "quantitative", "scale": {"domain": [600, 1800], "reverse": true, "nice": false, "zero": false}, "axis": {"values": [600, 900, 1200, 1500, 1800], "title": "Wavenumber (cm⁻¹)", "tickSize": -8, "labelPadding": 22, "titlePadding": 36}},
            "y": {"field": "v", "type": "quantitative", "scale": {"domain": [0, 282], "nice": false, "zero": false}, "axis": {"labels": false, "ticks": false, "title": "Absorbance", "titlePadding": 9}},
            "color": {"field": "s", "type": "nominal", "scale": {"domain": ["A1","A2","A3","A4","A5","A6","B1","B2","B3","B4","C1","C2"], "range": ["#2b2b2b","#111111","#3c3c3c","#a8a8a8","#a8a8a8","#a8a8a8","#111111","#111111","#333333","#a5a5a5","#a0a0a0","#a0a0a0"]}, "legend": null},
            "strokeDash": {"field": "s", "type": "nominal", "scale": {"domain": ["A1","A2","A3","A4","A5","A6","B1","B2","B3","B4","C1","C2"], "range": [[1,0],[8,5],[2,2],[1,0],[9,6],[2,2],[1,0],[5,3],[2,1.5],[1,0],[2,2],[8,6]]}, "legend": null},
            "strokeWidth": {"field": "s", "type": "ordinal", "scale": {"type": "ordinal", "domain": ["A1","A2","A3","A4","A5","A6","B1","B2","B3","B4","C1","C2"], "range": [2,2.6,2.2,2.2,2.6,2.2,1.6,2.6,1.8,2.6,2.5,2.5]}, "legend": null}
          }
        },
        {
          "data": {"values": [{"t": "(c)"}]},
          "mark": {"type": "text", "font": "Liberation Serif", "fontWeight": "bold", "fontSize": 28, "color": "#1a1a1a"},
          "encoding": {
            "x": {"datum": 800, "type": "quantitative"},
            "y": {"datum": 260, "type": "quantitative"},
            "text": {"field": "t"}
          }
        }
      ]
    }
  ],
  "spacing": 124,
  "bounds": "flush"
}
],
"spacing": 144,
"bounds": "flush"
}
